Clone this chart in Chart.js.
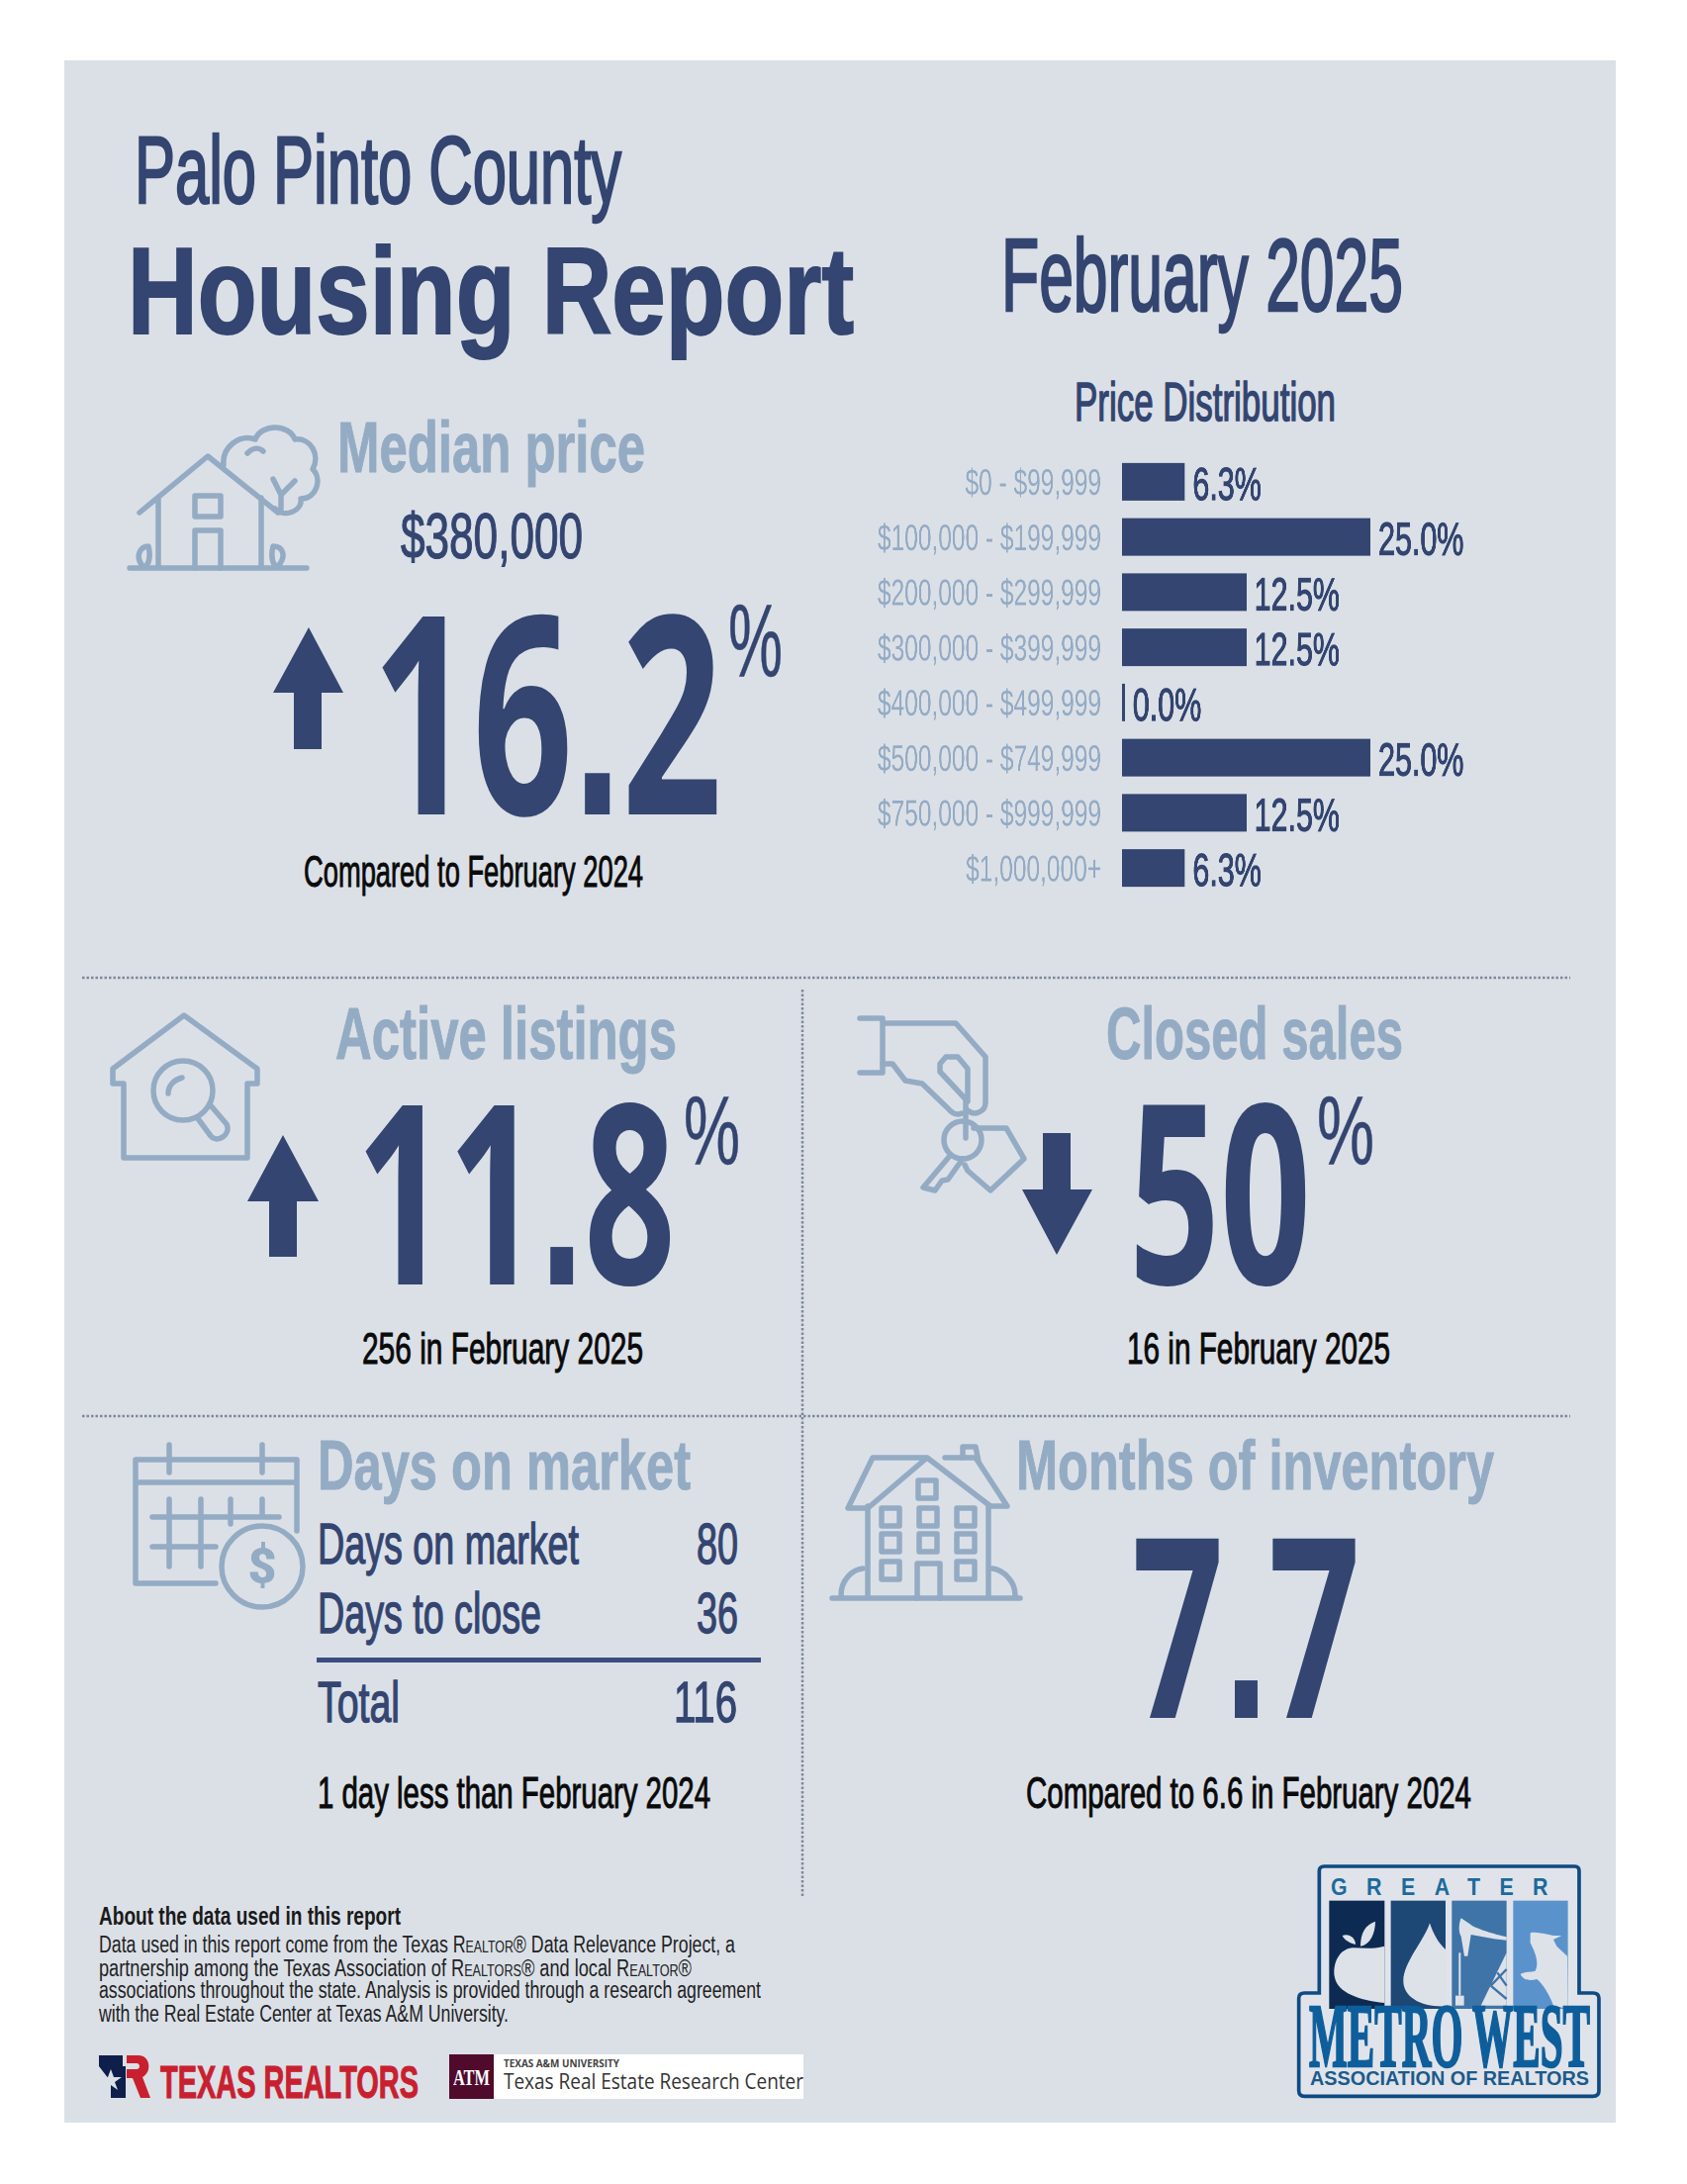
<!DOCTYPE html>
<html>
<head>
<meta charset="utf-8">
<title>Palo Pinto County Housing Report</title>
<script src="https://cdn.jsdelivr.net/npm/chart.js@4"></script>
<style>
html, body { margin: 0; padding: 0; background: #fff; }
#pagina { position: relative; width: 1705px; height: 2207px; overflow: hidden; }
#painel { position: absolute; left: 65px; top: 61px; width: 1568px; height: 2084px; background: #dbe0e7; }
#desenho { position: absolute; left: 0; top: 0; }
#caixa-grafico { position: absolute; left: 880px; top: 440px; transform: scaleX(0.662); transform-origin: 0 0; }
.txt { position: absolute; white-space: nowrap; transform-origin: 0 0; font-family: "Liberation Sans", sans-serif; }
.ic { fill: none; stroke: #94abc4; stroke-width: 5.5; stroke-linecap: round; stroke-linejoin: round; }
.ponto { stroke: #7f8898; stroke-width: 2.5; stroke-dasharray: 2.5 2; }
.seta { fill: #334570; }
</style>
</head>
<body>
<div id="pagina">
<div id="painel"></div>
<svg id="desenho" width="1705" height="2207" viewBox="0 0 1705 2207">
  <line class="ponto" x1="83" y1="988" x2="1587" y2="988"/>
  <line class="ponto" x1="83" y1="1431" x2="1587" y2="1431"/>
  <line class="ponto" x1="811" y1="1000" x2="811" y2="1917"/>

  <polygon class="seta" points="312,634 347,700 325,700 325,757 297,757 297,700 276,700"/>
  <polygon class="seta" points="286,1147 322,1214 300,1214 300,1270 272,1270 272,1214 250,1214"/>
  <polygon class="seta" points="1054,1145 1082,1145 1082,1202 1104,1202 1068,1268 1033,1202 1054,1202"/>
  <rect x="320" y="1675" width="449" height="5" fill="#3b4d80"/>

  <!-- casa mediana -->
  <g class="ic">
    <path d="M131,574 H310 M141,518 L210,461 L281,518 M160,503 V574 M264,503 V574"/>
    <rect x="197" y="501" width="26" height="21"/>
    <path d="M197,574 V536 H223 V574"/>
    <path d="M144,572 C136,562 142,552 150,552 C152,560 152,566 148,572 M281,572 C290,562 286,552 276,552 C274,560 274,566 278,572"/>
    <path d="M226,470 C224,452 242,438 258,444 C264,428 292,428 298,444 C314,442 324,460 316,474 C326,484 320,504 304,504 C306,516 288,524 278,514 M276,484 L284,500 V514 M298,486 L284,500 M250,458 C256,452 262,452 266,456"/>
  </g>
  <!-- casa lupa -->
  <g class="ic">
    <path d="M186,1026 L114,1080 V1095 H125 V1170 H250 V1095 H260 V1080 Z"/>
    <circle cx="185" cy="1102" r="30"/>
    <path d="M199,1129 L213,1148 C220,1156 234,1146 229,1136 L212,1116"/>
    <path d="M170,1105 C170,1097 176,1091 184,1089"/>
  </g>
  <!-- chaves -->
  <g class="ic">
    <path d="M869,1029 H892 V1084 H869 M892,1034 H966 L996,1068 V1114 C996,1124 984,1128 978,1122"/>
    <path d="M892,1075 H902 L915,1092 L932,1095 L958,1120 C963,1126 968,1127 972,1125"/>
    <path d="M956,1068 H968 L978,1080 V1113 L950,1083 V1075 Z"/>
    <path d="M976,1113 V1150"/>
    <circle cx="973" cy="1152" r="19"/>
    <path d="M960,1168 L933,1200 L945,1203 L952,1193 L958,1192 L973,1171"/>
    <path d="M984,1140 H1017 L1035,1171 L1001,1203 L978,1183 L975,1177"/>
  </g>
  <!-- calendario -->
  <g class="ic">
    <path d="M218,1600 H137 V1475 H300 V1547 M137,1498 H300 M171,1460 V1488 M265,1460 V1488"/>
    <path d="M154,1533 H282 M154,1563 H218 M171,1515 V1583 M203,1515 V1583 M233,1515 V1540 M265,1515 V1533"/>
    <circle cx="265" cy="1583" r="41"/>
  </g>
  <text x="265" y="1600" text-anchor="middle" font-family="Roboto, sans-serif" font-weight="900" font-size="50" fill="#94abc4">$</text>
  <!-- predio -->
  <g class="ic">
    <path d="M841,1615 H1031 M877,1522 V1615 M999,1522 V1615"/>
    <path d="M857,1524 H877 L937,1473 L1001,1522 H1018 L986,1473 H955 M937,1473 H882 L857,1524"/>
    <path d="M973,1473 V1462 H986 L989,1477"/>
    <rect x="928" y="1496" width="18" height="18"/>
    <rect x="891" y="1524" width="18" height="18"/><rect x="929" y="1524" width="18" height="18"/><rect x="967" y="1524" width="18" height="18"/>
    <rect x="891" y="1550" width="18" height="18"/><rect x="929" y="1550" width="18" height="18"/><rect x="967" y="1550" width="18" height="18"/>
    <rect x="891" y="1578" width="18" height="18"/><rect x="967" y="1578" width="18" height="18"/>
    <path d="M927,1615 V1580 H950 V1615"/>
    <path d="M850,1612 C850,1596 862,1586 872,1585 M1026,1612 C1026,1596 1012,1586 1003,1585"/>
  </g>

  <!-- logo metro west -->
  <g transform="translate(1280,1870) scale(0.3333)">
    <path d="M175,48 H935 Q948,48 948,62 V432 H990 Q1008,432 1008,448 V728 Q1008,745 990,745 H115 Q98,745 98,728 V448 Q98,432 115,432 H160 V62 Q160,48 175,48 Z" fill="#e0e4ea" stroke="#0f4a82" stroke-width="11"/>
    <rect x="190" y="152" width="168" height="328" fill="#0d2b52"/>
    <rect x="377" y="152" width="166" height="328" fill="#1d4775"/>
    <rect x="562" y="152" width="166" height="328" fill="#3f74a8"/>
    <rect x="748" y="152" width="166" height="328" fill="#5a93cc"/>
    <g fill="#dde2e9">
      <path d="M358,290 C320,300 290,295 260,295 C215,300 200,350 207,385 C215,430 280,455 358,462 Z"/>
      <path d="M285,290 C285,250 300,225 330,215 C330,250 315,285 285,290 Z"/>
      <path d="M270,285 C250,280 235,270 230,258 C250,250 270,265 270,285 Z"/>
      <path d="M495,220 C480,270 415,340 415,395 C415,445 470,475 543,472 V300 C520,280 505,250 495,220 Z"/>
      <path d="M590,205 L620,225 C630,235 695,255 728,262 V272 L690,268 L620,255 L610,320 H600 L590,260 C580,245 585,215 590,205 Z"/>
      <rect x="583" y="310" width="6" height="130"/>
      <rect x="573" y="440" width="26" height="30"/>
      <polygon points="650,470 728,310 728,470"/>
      <path d="M800,250 C820,245 850,255 870,258 L895,258 L870,270 L880,290 L912,320 L914,480 L870,470 C860,440 835,400 820,390 C800,395 780,395 770,375 C785,365 800,370 815,365 C830,340 810,300 800,280 Z"/>
    </g>
    <path d="M680,410 L728,360 M680,410 L728,450 M700,370 L728,410" stroke="#3f74a8" stroke-width="7" fill="none"/>
  </g>

  <!-- logos rodape -->
  <rect x="100" y="2077" width="24" height="11" fill="#0f1f4b"/>
  <polygon points="112,2088 127,2088 127,2120 112,2120" fill="#0f1f4b"/>
  <polygon points="100,2088 124,2088 116,2097 119,2108 110,2101" fill="#0f1f4b"/>
  <polygon points="112,2091 115,2099 123,2099 116,2104 119,2112 112,2107 105,2112 108,2104 101,2099 109,2099" fill="#dbe0e7"/>
  <path d="M128,2077 H140 C152,2077 154,2094 144,2099 L152,2120 H142 L134,2100 H128 V2091 H138 C142,2091 142,2085 138,2085 H128 Z" fill="#c8202f"/>
  <rect x="499" y="2076" width="313" height="45" fill="#fff"/>
  <rect x="454" y="2076" width="45" height="45" fill="#500a2c"/>
</svg>

<div id="caixa-grafico"><canvas id="grafico" width="937" height="480"></canvas></div>
</div>

<script>
const NAVY = '#334570';
const CLARO = '#94abc4';
const PRETO = '#0a0a0a';

const faixasPreco = ['$0 - $99,999', '$100,000 - $199,999', '$200,000 - $299,999', '$300,000 - $399,999',
    '$400,000 - $499,999', '$500,000 - $749,999', '$750,000 - $999,999', '$1,000,000+'];
const participacao = [6.3, 25.0, 12.5, 12.5, 0.0, 25.0, 12.5, 6.3];

const mes = 'February 2025';
const mesAnterior = 'February 2024';
const precoMediano = '$380,000';
const variacaoPreco = '16.2';
const variacaoListagens = '11.8';
const variacaoVendas = '50';
const listagens = 256;
const vendas = 16;
const diasMercado = 80;
const diasFechar = 36;
const diasTotal = 116;
const mesesEstoque = '7.7';
const mesesAnterior = '6.6';

const pagina = document.getElementById('pagina');
const NUMERAL = 'font-family:"Open Sans",sans-serif';

// ponto quadrado nos numeros grandes
const numeral = s => s.replace('.', '<span style="font-family:\'Liberation Sans\',sans-serif">.</span>');

// poe o texto entre x1 e x2 com a linha de base em "base"
function texto(html, x1, x2, base, tam, cor, peso, traco, extra) {
    const el = document.createElement('div');
    el.className = 'txt';
    el.innerHTML = html + '<i style="display:inline-block;width:0;height:0"></i>';
    el.style.fontSize = tam + 'px';
    el.style.lineHeight = tam >= 90 ? '0.72' : '1';
    el.style.color = cor;
    el.style.fontWeight = peso || 400;
    el.style.left = x1 + 'px';
    el.style.top = '0px';
    if (traco) el.style.webkitTextStroke = traco + 'px ' + cor;
    if (extra) el.style.cssText += extra;
    pagina.appendChild(el);

    const r = el.getBoundingClientRect();
    const marca = el.querySelector('i').getBoundingClientRect();
    el.style.top = (base - (marca.bottom - r.top)) + 'px';
    el.style.transform = 'scaleX(' + ((x2 - x1) / r.width) + ')';
}

texto('Palo Pinto County', 136, 628, 205, 96, NAVY, 400, 2.5);
texto('Housing Report', 129, 863, 337, 124, NAVY, 700, 2);
texto(mes, 1012, 1418, 314, 103, NAVY, 400, 2.5);
texto('Price Distribution', 1086, 1350, 425, 56, NAVY, 400, 1.5);

texto('Median price', 341, 652, 477, 72, CLARO, 700, 1);
texto(precoMediano, 405, 589, 564, 64, NAVY, 400, 1.2);
texto(numeral(variacaoPreco), 376, 730, 823, 280, NAVY, 700, 0, NUMERAL);
texto('%', 736, 791, 683, 103, NAVY, 400, 0.5);
texto('Compared to ' + mesAnterior, 307, 650, 896, 45, PRETO, 400, 1);

texto('Active listings', 339, 684, 1070, 74, CLARO, 700, 1);
texto(numeral(variacaoListagens), 360, 683, 1298, 254, NAVY, 700, 0, NUMERAL);
texto('%', 691, 748, 1176, 99, NAVY, 400, 0.5);
texto(listagens + ' in ' + mes, 366, 650, 1378, 45, PRETO, 400, 1);

texto('Closed sales', 1118, 1418, 1070, 74, CLARO, 700, 1);
texto(variacaoVendas, 1141, 1325, 1298, 254, NAVY, 700, 0, NUMERAL);
texto('%', 1331, 1389, 1176, 99, NAVY, 400, 0.5);
texto(vendas + ' in ' + mes, 1139, 1405, 1378, 45, PRETO, 400, 1);

texto('Days on market', 321, 698, 1505, 70, CLARO, 700, 1);
texto('Days on market', 321, 585, 1580, 58, NAVY, 400, 1.3);
texto(diasMercado, 704, 746, 1580, 58, NAVY, 400, 1.3);
texto('Days to close', 321, 547, 1650, 58, NAVY, 400, 1.3);
texto(diasFechar, 704, 746, 1650, 58, NAVY, 400, 1.3);
texto('Total', 321, 404, 1740, 58, NAVY, 400, 1.3);
texto(diasTotal, 681, 745, 1740, 58, NAVY, 400, 1.3);
texto('1 day less than ' + mesAnterior, 321, 718, 1827, 45, PRETO, 400, 1);

texto('Months of inventory', 1027, 1510, 1505, 70, CLARO, 700, 1);
texto(numeral(mesesEstoque), 1144, 1375, 1736, 254, NAVY, 700, 0, NUMERAL);
texto('Compared to ' + mesesAnterior + ' in ' + mesAnterior, 1037, 1487, 1827, 45, PRETO, 400, 1);

const sc = s => '<span style="font-variant:small-caps">' + s + '</span>';
texto('About the data used in this report', 100, 405, 1945, 25, '#1a1a1a', 700);
texto('Data used in this report come from the Texas ' + sc('Realtor') + '® Data Relevance Project, a', 100, 743, 1973, 23, '#222');
texto('partnership among the Texas Association of ' + sc('Realtors') + '® and local ' + sc('Realtor') + '®', 100, 699, 1997, 23, '#222');
texto('associations throughout the state. Analysis is provided through a research agreement', 100, 769, 2019, 23, '#222');
texto('with the Real Estate Center at Texas A&amp;M University.', 100, 514, 2043, 23, '#222');

texto('TEXAS REALTORS', 162, 423, 2120, 46, '#c8202f', 700, 1);
texto('ATM', 458, 495, 2107, 24, '#fff', 700, 0, 'font-family:"Liberation Serif",serif');
texto('TEXAS A&amp;M UNIVERSITY', 509, 626, 2089, 11, '#444', 700, 0, 'font-family:"Open Sans",sans-serif');
texto('Texas Real Estate Research Center', 509, 812, 2111, 22, '#333', 400, 0, 'font-family:"Open Sans",sans-serif');

texto('GREATER', 1345, 1584, 1915, 23, '#1b6a9c', 700, 0, 'letter-spacing:21px');
texto('METRO WEST', 1323, 1607, 2088, 92, '#0e5e9c', 700, 2.5, 'font-family:"Liberation Serif",serif');
texto('ASSOCIATION OF REALTORS', 1324, 1606, 2107, 20, '#1b5a8c', 700);

// rotulo de porcentagem na ponta de cada barra
const rotulosBarra = {
    id: 'rotulosBarra',
    afterDatasetsDraw(chart) {
        const ctx = chart.ctx;
        const meta = chart.getDatasetMeta(0);
        ctx.save();
        ctx.font = '46px "Liberation Sans", sans-serif';
        ctx.fillStyle = NAVY;
        ctx.strokeStyle = NAVY;
        ctx.lineWidth = 1.2;
        ctx.textBaseline = 'alphabetic';
        meta.data.forEach((barra, i) => {
            const rotulo = participacao[i].toFixed(1) + '%';
            ctx.fillText(rotulo, barra.x + 12, barra.y + 18);
            ctx.strokeText(rotulo, barra.x + 12, barra.y + 18);
        });
        ctx.restore();
    }
};

new Chart(document.getElementById('grafico'), {
    type: 'bar',
    data: {
        labels: faixasPreco,
        datasets: [{
            data: participacao,
            backgroundColor: NAVY,
            barPercentage: 0.68,
            categoryPercentage: 1,
            minBarLength: 4
        }]
    },
    options: {
        indexAxis: 'y',
        responsive: false,
        animation: false,
        devicePixelRatio: 2,
        layout: { padding: { top: 19, bottom: 15, left: 0, right: 174 } },
        plugins: { legend: { display: false }, tooltip: { enabled: false } },
        scales: {
            x: { display: false, min: 0, max: 25 },
            y: {
                afterFit(scale) {
                    scale.width = 384;
                    scale.paddingTop = 0;
                    scale.paddingBottom = 0;
                },
                grid: { display: false, drawTicks: false },
                border: { display: false },
                ticks: {
                    color: CLARO,
                    padding: 32,
                    labelOffset: 3,
                    autoSkip: false,
                    font: { family: '"Liberation Sans", sans-serif', size: 37 }
                }
            }
        }
    },
    plugins: [rotulosBarra]
});
</script>
</body>
</html>
